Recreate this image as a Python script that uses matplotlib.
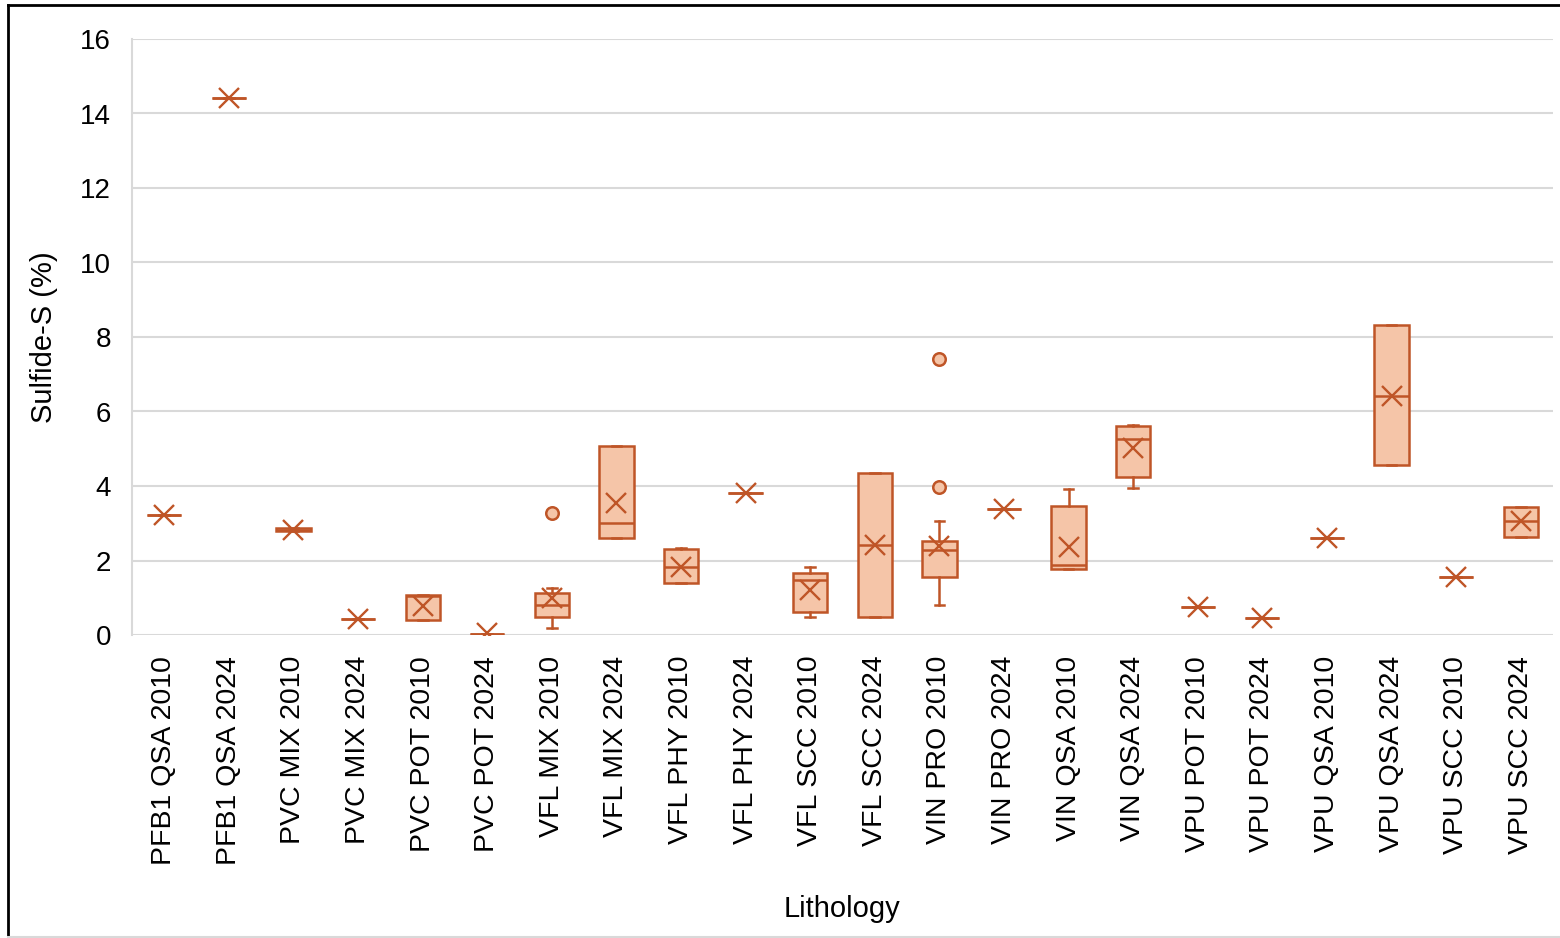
import matplotlib
matplotlib.use("Agg")
import matplotlib.pyplot as plt
from matplotlib.lines import Line2D

plt.rcParams['font.family'] = ['Liberation Sans', 'DejaVu Sans']

# Lithology groups and their summary statistics (Sulfide-S, %)
labels = [
    "PFB1 QSA 2010", "PFB1 QSA 2024", "PVC MIX 2010", "PVC MIX 2024",
    "PVC POT 2010", "PVC POT 2024", "VFL MIX 2010", "VFL MIX 2024",
    "VFL PHY 2010", "VFL PHY 2024", "VFL SCC 2010", "VFL SCC 2024",
    "VIN PRO 2010", "VIN PRO 2024", "VIN QSA 2010", "VIN QSA 2024",
    "VPU POT 2010", "VPU POT 2024", "VPU QSA 2010", "VPU QSA 2024",
    "VPU SCC 2010", "VPU SCC 2024",
]
whislo = [3.22, 14.42, 2.78, 0.43, 0.40, 0.03, 0.19, 2.60, 1.40, 3.81, 0.48, 0.48,
          0.80, 3.38, 1.77, 3.95, 0.75, 0.46, 2.60, 4.56, 1.56, 2.63]
q1     = [3.22, 14.42, 2.78, 0.43, 0.40, 0.03, 0.48, 2.60, 1.40, 3.81, 0.62, 0.48,
          1.56, 3.38, 1.77, 4.24, 0.75, 0.46, 2.60, 4.56, 1.56, 2.63]
median = [3.22, 14.42, 2.82, 0.43, 1.04, 0.03, 0.80, 3.00, 1.83, 3.81, 1.48, 2.42,
          2.28, 3.38, 1.88, 5.26, 0.75, 0.46, 2.60, 6.42, 1.56, 3.06]
q3     = [3.22, 14.42, 2.86, 0.43, 1.07, 0.03, 1.13, 5.07, 2.31, 3.81, 1.66, 4.35,
          2.52, 3.38, 3.46, 5.61, 0.75, 0.46, 2.60, 8.32, 1.56, 3.44]
whishi = [3.22, 14.42, 2.86, 0.43, 1.08, 0.03, 1.26, 5.07, 2.34, 3.81, 1.83, 4.35,
          3.06, 3.38, 3.92, 5.64, 0.75, 0.46, 2.60, 8.32, 1.56, 3.44]
mean   = [3.22, 14.42, 2.82, 0.43, 0.78, 0.05, 1.00, 3.54, 1.83, 3.81, 1.21, 2.42,
          2.40, 3.38, 2.36, 5.02, 0.75, 0.46, 2.60, 6.42, 1.56, 3.06]
outliers = [[], [], [], [], [], [], [3.27], [], [], [], [], [],
            [7.41, 3.97], [], [], [], [], [], [], [], [], []]

EDGE = '#BF5527'
FILL = '#F5C5A8'
GRID = '#D9D9D9'

stats = []
for i, lab in enumerate(labels):
    stats.append(dict(label=lab, whislo=whislo[i], q1=q1[i], med=median[i],
                      q3=q3[i], whishi=whishi[i], mean=mean[i],
                      fliers=outliers[i]))

fig = plt.figure(figsize=(15.6, 9.38), dpi=100)
ax = fig.add_axes([132 / 1560, 1 - 635 / 938, (1553 - 132) / 1560, (635 - 39) / 938])

ax.bxp(stats, positions=range(1, len(labels) + 1), widths=0.53, capwidths=0.15,
       patch_artist=True, showmeans=True,
       boxprops=dict(facecolor=FILL, edgecolor=EDGE, linewidth=1.8),
       medianprops=dict(color=EDGE, linewidth=1.8),
       whiskerprops=dict(color=EDGE, linewidth=1.8),
       capprops=dict(color=EDGE, linewidth=1.8),
       meanprops=dict(marker='x', markeredgecolor=EDGE, markersize=14,
                      markeredgewidth=1.7),
       flierprops=dict(marker='o', markerfacecolor=FILL, markeredgecolor=EDGE,
                       markersize=9, markeredgewidth=1.8),
       zorder=3)

ax.set_xlim(0.5, len(labels) + 0.5)
ax.set_ylim(0, 16)
ax.set_yticks(range(0, 17, 2))
ax.yaxis.grid(True, color=GRID, linewidth=1.5, zorder=0)
ax.set_axisbelow(True)
for side in ['top', 'right', 'bottom']:
    ax.spines[side].set_visible(False)
ax.spines['left'].set_color(GRID)
ax.spines['left'].set_linewidth(1.5)
ax.tick_params(axis='both', length=0, labelsize=20, colors='black')
ax.tick_params(axis='y', pad=15)
ax.tick_params(axis='x', pad=15)
ax.set_xticks(range(1, len(labels) + 1))
ax.set_xticklabels(labels, rotation=90, fontsize=20.5)

ax.set_ylabel("Sulfide-S (%)", fontsize=21, labelpad=16)
ax.set_xlabel("Lithology", fontsize=21, labelpad=22)

# Outer frame of the chart area
fig.add_artist(Line2D([8 / 1560, 8 / 1560], [0, 1 - 5 / 938], color='black',
                      linewidth=2, transform=fig.transFigure))
fig.add_artist(Line2D([8 / 1560, 1], [1 - 5 / 938, 1 - 5 / 938], color='black',
                      linewidth=2, transform=fig.transFigure))
fig.add_artist(Line2D([8 / 1560, 1], [1 / 938, 1 / 938], color=GRID,
                      linewidth=1.5, transform=fig.transFigure))

fig.savefig("out.png", dpi=100)
